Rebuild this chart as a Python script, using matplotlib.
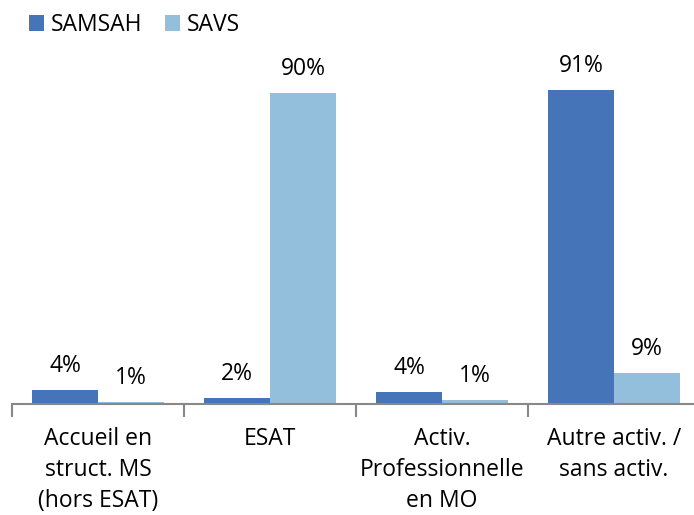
import numpy as np
import matplotlib.pyplot as plt

plt.rcParams['font.family'] = ['Open Sans', 'DejaVu Sans']

categories = ['Accueil en\nstruct. MS\n(hors ESAT)', 'ESAT',
              'Activ.\nProfessionnelle\nen MO', 'Autre activ. /\nsans activ.']
samsah = [4.0, 1.6, 3.5, 91.0]
savs = [0.6, 90.2, 1.0, 8.8]

c_samsah = '#4674b8'
c_savs = '#93bfdd'

fig = plt.figure(figsize=(6.94, 5.15), dpi=100)
W, H = 694, 515
ax = fig.add_axes([12 / W, (H - 403.7) / H, 688 / W, (403.7 - 59) / H])

x = np.arange(len(categories))
bw = 66 / 172
ax.bar(x - bw / 2, samsah, bw, color=c_samsah, label='SAMSAH')
ax.bar(x + bw / 2, savs, bw, color=c_savs, label='SAVS')

for xi, v in zip(x - bw / 2, samsah):
    ax.text(xi, v + 3.5, f'{v:.0f}%', ha='center', va='bottom', fontsize=16.5)
for xi, v in zip(x + bw / 2, savs):
    ax.text(xi, v + 3.5, f'{v:.0f}%', ha='center', va='bottom', fontsize=16.5)

ax.set_xlim(-0.5, len(categories) - 0.5)
ax.set_ylim(0, 100)
for s in ['top', 'right', 'left']:
    ax.spines[s].set_visible(False)
ax.spines['bottom'].set_color('#888888')
ax.spines['bottom'].set_linewidth(1.5)
ax.set_yticks([])

ax.set_xticks(x)
ax.set_xticklabels(categories, fontsize=16.5, linespacing=1.38, va='top')
ax.tick_params(axis='x', which='major', length=0, pad=17)
ax.set_xticks(np.arange(len(categories) + 1) - 0.5, minor=True)
ax.tick_params(axis='x', which='minor', length=9, width=1.5, color='#888888')

fig.legend(loc='upper left', bbox_to_anchor=(20 / W, 1 - 4 / H), ncol=2,
           frameon=False, fontsize=16.5, handlelength=0.65, handleheight=0.65,
           handletextpad=0.3, columnspacing=1.0, borderaxespad=0)

fig.savefig('out.png', dpi=100)
